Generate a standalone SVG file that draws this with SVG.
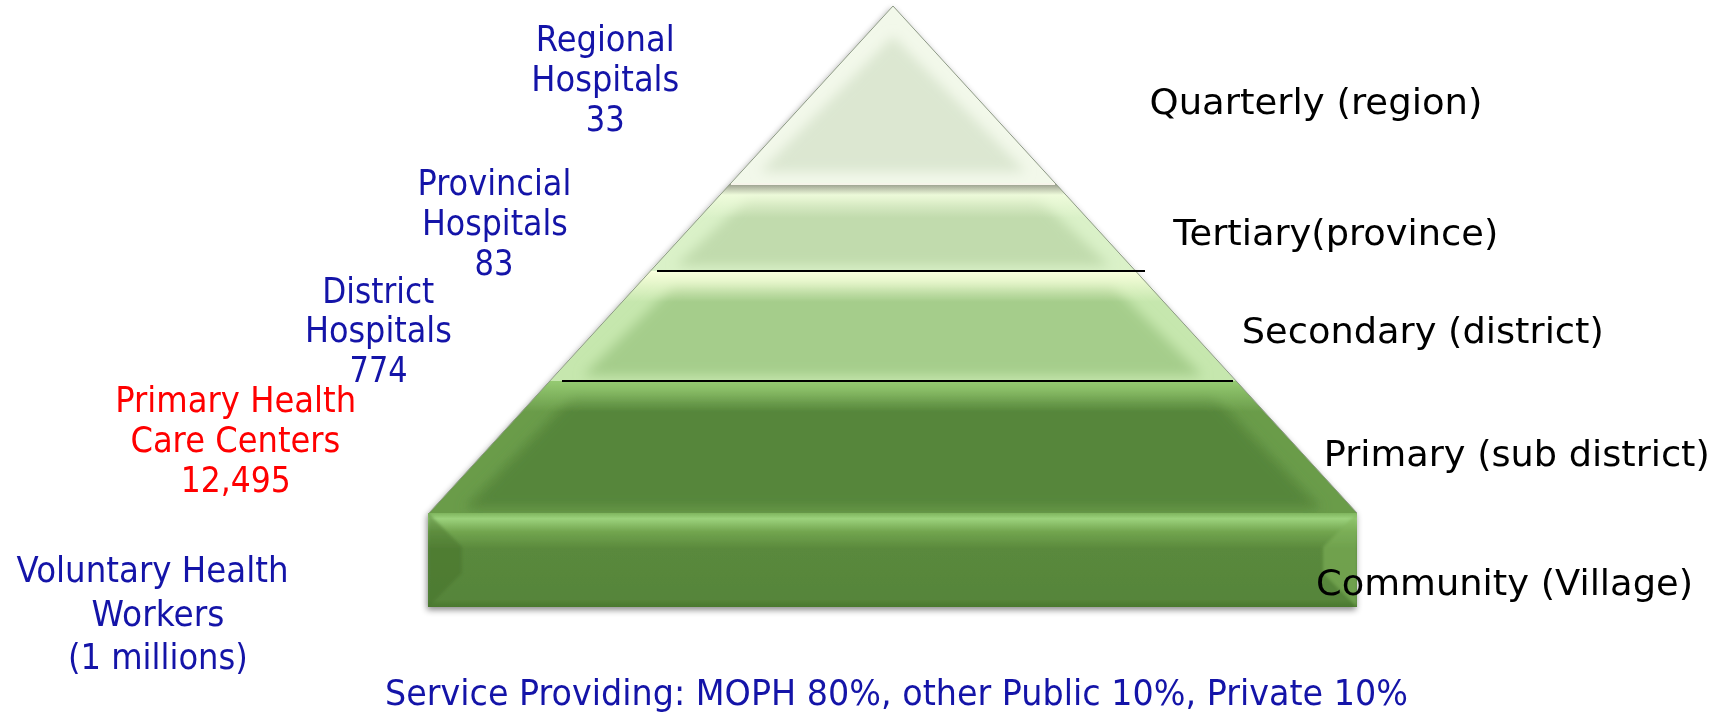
<svg xmlns="http://www.w3.org/2000/svg" width="1721" height="714" viewBox="0 0 1721 714">
<style>
.l{font-family:"DejaVu Sans","Liberation Sans",sans-serif;font-size:35px;fill:#1414a8}
.v{font-size:36px}
.red{fill:#ff0000}
.r{font-family:"DejaVu Sans","Liberation Sans",sans-serif;font-size:35px;fill:#000}
.b{font-family:"DejaVu Sans","Liberation Sans",sans-serif;font-size:35px;fill:#1414a8}
.edge{fill:none;stroke:#8e9a86;stroke-width:1}
</style>
<defs>
<filter id="soft" x="-20%" y="-20%" width="140%" height="140%"><feGaussianBlur stdDeviation="6"/></filter>
<filter id="soft2" x="-20%" y="-20%" width="140%" height="140%"><feGaussianBlur stdDeviation="1.5"/></filter>
<filter id="shadow" x="-10%" y="-10%" width="120%" height="120%"><feDropShadow dx="-1" dy="3" stdDeviation="3" flood-color="#000" flood-opacity="0.45"/></filter>
<clipPath id="c1"><polygon points="893,6 730,184 1056,184"/></clipPath>
<clipPath id="c2"><polygon points="730,184 1056,184 1136,271 650,271"/></clipPath>
<clipPath id="c3"><polygon points="650,271 1136,271 1236,381 550,381"/></clipPath>
<clipPath id="c4"><polygon points="550,381 1236,381 1357,513 429,513"/></clipPath>
<clipPath id="c5"><rect x="428" y="513" width="929" height="94"/></clipPath>
<linearGradient id="hl2" x1="0" y1="186" x2="0" y2="218" gradientUnits="userSpaceOnUse"><stop offset="0" stop-color="#f6ffe2"/><stop offset="1" stop-color="#f6ffe2" stop-opacity="0"/></linearGradient>
<linearGradient id="hl3" x1="0" y1="272" x2="0" y2="302" gradientUnits="userSpaceOnUse"><stop offset="0" stop-color="#f8ffdc"/><stop offset="1" stop-color="#f8ffdc" stop-opacity="0"/></linearGradient>
<linearGradient id="hl4" x1="0" y1="382" x2="0" y2="412" gradientUnits="userSpaceOnUse"><stop offset="0" stop-color="#94c971"/><stop offset="1" stop-color="#94c971" stop-opacity="0"/></linearGradient>
<linearGradient id="g5" x1="0" y1="513" x2="0" y2="607" gradientUnits="userSpaceOnUse"><stop offset="0" stop-color="#7fb55e"/><stop offset="0.06" stop-color="#9cd27c"/><stop offset="0.2" stop-color="#72a54f"/><stop offset="0.38" stop-color="#5a893c"/><stop offset="0.92" stop-color="#56853a"/><stop offset="1" stop-color="#4a782e"/></linearGradient>
<linearGradient id="sh" x1="0" y1="185" x2="0" y2="195" gradientUnits="userSpaceOnUse"><stop offset="0" stop-color="#000" stop-opacity="0.35"/><stop offset="1" stop-color="#000" stop-opacity="0"/></linearGradient>
</defs>
<rect width="1721" height="714" fill="#fff"/>
<g id="pyramid" filter="url(#shadow)">
<g id="tier-community">
<rect x="428" y="513" width="929" height="94" fill="url(#g5)"/>
<g clip-path="url(#c5)">
<polygon points="428,513 462,547 462,573 428,607" fill="#446f2b" opacity="0.45" filter="url(#soft2)"/>
<polygon points="1357,513 1323,547 1323,573 1357,607" fill="#82b65d" opacity="0.55" filter="url(#soft2)"/>
</g>
</g>
<g id="tier-primary">
<polygon points="550,381 1236,381 1357,513 429,513" fill="#6a9c4a"/>
<g clip-path="url(#c4)">
<polygon points="574,394 1212,394 1322,509 464,509" fill="#57863a" filter="url(#soft)"/>
<rect x="429" y="381" width="928" height="32" fill="url(#hl4)"/>
</g>
</g>
<g id="tier-secondary">
<polygon points="650,271 1136,271 1236,381 550,381" fill="#c6e7ae"/>
<g clip-path="url(#c3)">
<polygon points="674,285 1112,285 1203,376 583,376" fill="#a5cd8b" filter="url(#soft)"/>
<rect x="550" y="271" width="686" height="32" fill="url(#hl3)"/>
</g>
</g>
<g id="tier-tertiary">
<polygon points="730,184 1056,184 1136,271 650,271" fill="#daf1c8"/>
<g clip-path="url(#c2)">
<polygon points="748,198 1038,198 1110,266 676,266" fill="#c1dbad" filter="url(#soft)"/>
<rect x="650" y="184" width="486" height="34" fill="url(#hl2)"/>
<rect x="650" y="184" width="486" height="11" fill="url(#sh)"/>
</g>
</g>
<g id="tier-quarterly">
<polygon points="893,6 730,184 1056,184" fill="#f2f8ea"/>
<g clip-path="url(#c1)">
<polygon points="893,36 760,172 1026,172" fill="#dce7d1" filter="url(#soft)"/>
</g>
<line x1="731" y1="184" x2="1055" y2="184" stroke="#f6f4ea" stroke-width="2"/>
</g>
<polyline class="edge" points="429,513 893,6 1357,513"/>
</g>
<g id="connectors">
<line x1="657" y1="271" x2="1145" y2="271" stroke="#000" stroke-width="2.2"/>
<line x1="562" y1="381" x2="1233" y2="381" stroke="#000" stroke-width="2.2"/>
</g>
<g id="label-regional">
<text class="l" x="535.7" y="51" textLength="139" lengthAdjust="spacingAndGlyphs">Regional</text>
<text class="l" x="531.3" y="91.1" textLength="148" lengthAdjust="spacingAndGlyphs">Hospitals</text>
<text class="l" x="585.7" y="130.7" textLength="39" lengthAdjust="spacingAndGlyphs">33</text>
</g>
<g id="label-provincial">
<text class="l" x="417.4" y="194.9" textLength="154" lengthAdjust="spacingAndGlyphs">Provincial</text>
<text class="l" x="421.9" y="234.5" textLength="146" lengthAdjust="spacingAndGlyphs">Hospitals</text>
<text class="l" x="474.6" y="275" textLength="39" lengthAdjust="spacingAndGlyphs">83</text>
</g>
<g id="label-district">
<text class="l" x="322.3" y="302.8" textLength="112" lengthAdjust="spacingAndGlyphs">District</text>
<text class="l" x="304.9" y="342.4" textLength="147" lengthAdjust="spacingAndGlyphs">Hospitals</text>
<text class="l" x="349.6" y="381.6" textLength="58" lengthAdjust="spacingAndGlyphs">774</text>
</g>
<g id="label-phc">
<text class="l red" x="115.2" y="412.1" textLength="241" lengthAdjust="spacingAndGlyphs">Primary Health</text>
<text class="l red" x="130.4" y="451.7" textLength="210" lengthAdjust="spacingAndGlyphs">Care Centers</text>
<text class="l red" x="180.8" y="491.8" textLength="110" lengthAdjust="spacingAndGlyphs">12,495</text>
</g>
<g id="label-vhw">
<text class="l v" x="16.5" y="581.5" textLength="272" lengthAdjust="spacingAndGlyphs">Voluntary Health</text>
<text class="l v" x="91.5" y="626.1" textLength="133" lengthAdjust="spacingAndGlyphs">Workers</text>
<text class="l v" x="67.9" y="669.4" textLength="180" lengthAdjust="spacingAndGlyphs">(1 millions)</text>
</g>
<g id="level-labels">
<text class="r" x="1149.5" y="113.6" textLength="333" lengthAdjust="spacingAndGlyphs">Quarterly (region)</text>
<text class="r" x="1173.3" y="244.6" textLength="325" lengthAdjust="spacingAndGlyphs">Tertiary(province)</text>
<text class="r" x="1241.8" y="342.5" textLength="362" lengthAdjust="spacingAndGlyphs">Secondary (district)</text>
<text class="r" x="1323.8" y="466.2" textLength="386" lengthAdjust="spacingAndGlyphs">Primary (sub district)</text>
<text class="r" x="1316" y="595" textLength="377" lengthAdjust="spacingAndGlyphs">Community (Village)</text>
</g>
<g id="footer">
<text class="b" x="385" y="705" textLength="1023" lengthAdjust="spacingAndGlyphs">Service Providing: MOPH 80%, other Public 10%, Private 10%</text>
</g>
</svg>
